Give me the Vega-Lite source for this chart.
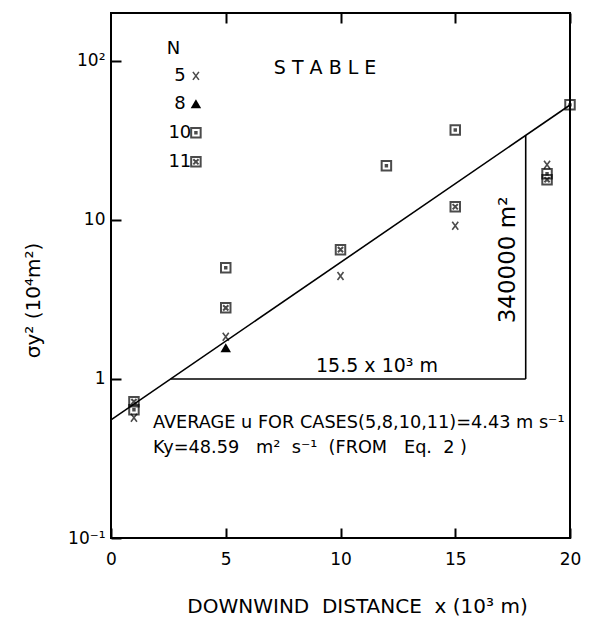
{
  "$schema": "https://vega.github.io/schema/vega-lite/v6.json",
  "width": 459,
  "height": 525,
  "autosize": {"type": "none"},
  "padding": {"left": 111, "top": 13, "right": 20, "bottom": 80},
  "background": "white",
  "config": {
    "view": {"stroke": "black", "strokeWidth": 2},
    "font": "DejaVu Sans",
    "axis": {
      "domain": false,
      "grid": false,
      "ticks": true,
      "tickColor": "black",
      "tickWidth": 2,
      "tickSize": -10,
      "labelFlush": false,
      "labelColor": "black",
      "labelFont": "DejaVu Sans",
      "labelFontSize": 17,
      "titleColor": "black",
      "titleFont": "DejaVu Sans",
      "titleFontWeight": "normal"
    }
  },
  "datasets": {
    "pts": [
      {"x": 1, "y": 0.57, "n": "5"},
      {"x": 5, "y": 1.84, "n": "5"},
      {"x": 10, "y": 4.44, "n": "5"},
      {"x": 15, "y": 9.2, "n": "5"},
      {"x": 19, "y": 22.2, "n": "5"},
      {"x": 5, "y": 1.57, "n": "8"},
      {"x": 1, "y": 0.64, "n": "10"},
      {"x": 5, "y": 5.0, "n": "10"},
      {"x": 12, "y": 21.9, "n": "10"},
      {"x": 15, "y": 36.8, "n": "10"},
      {"x": 19, "y": 19.5, "n": "10"},
      {"x": 20, "y": 52.9, "n": "10"},
      {"x": 1, "y": 0.72, "n": "11"},
      {"x": 5, "y": 2.8, "n": "11"},
      {"x": 10, "y": 6.5, "n": "11"},
      {"x": 15, "y": 12.1, "n": "11"},
      {"x": 19, "y": 17.9, "n": "11"},
      {"x": 3.7, "y": 80.5, "n": "5"},
      {"x": 3.7, "y": 53.7, "n": "8"},
      {"x": 3.7, "y": 35.3, "n": "10"},
      {"x": 3.7, "y": 23.2, "n": "11"}
    ],
    "fit": [
      {"x": 0, "y": 0.553},
      {"x": 20, "y": 52.8}
    ],
    "legendText": [
      {"x": 2.72, "y": 119, "label": "N", "align": "center"},
      {"x": 3.0, "y": 80.5, "label": "5", "align": "right"},
      {"x": 3.0, "y": 53.7, "label": "8", "align": "right"},
      {"x": 3.0, "y": 35.3, "label": "10", "align": "right"},
      {"x": 3.0, "y": 23.2, "label": "11", "align": "right"}
    ],
    "notes": [
      {"x": 9.33, "y": 82.8, "label": "S T A B L E", "size": 19},
      {"x": 11.59, "y": 1.106, "label": "15.5 x 10³ m", "size": 19}
    ],
    "notesLeft": [
      {"x": 1.83, "y": 0.492, "label": "AVERAGE u FOR CASES(5,8,10,11)=4.43 m s⁻¹"},
      {"x": 1.83, "y": 0.343, "label": "Ky=48.59\u00a0\u00a0 m²\u00a0 s⁻¹\u00a0 (FROM\u00a0\u00a0 Eq.\u00a0 2 )"}
    ],
    "vnote": [
      {"x": 17.3, "y": 5.6, "label": "340000 m²"}
    ],
    "tri": [
      {"x": 2.6, "x2": 18.07, "y": 1, "y2": 1},
      {"x": 18.07, "x2": 18.07, "y": 1, "y2": 34}
    ]
  },
  "layer": [
    {
      "data": {"name": "fit"},
      "mark": {"type": "line", "color": "black", "strokeWidth": 1.6},
      "encoding": {
        "x": {
          "field": "x", "type": "quantitative",
          "scale": {"domain": [0, 20], "nice": false, "zero": false},
          "axis": {
            "orient": "bottom",
            "values": [0, 5, 10, 15, 20],
            "labelPadding": 23,
            "title": "DOWNWIND\u00a0 DISTANCE\u00a0 x (10³ m)",
            "titleFontSize": 20,
            "titleX": 246,
            "titleY": 74,
            "titleBaseline": "alphabetic"
          }
        },
        "y": {
          "field": "y", "type": "quantitative",
          "scale": {"type": "log", "domain": [0.1, 200], "nice": false},
          "axis": {
            "orient": "left",
            "values": [0.1, 1, 10, 100],
            "labelExpr": "datum.value >= 100 ? '10²' : datum.value >= 10 ? '10' : datum.value >= 1 ? '1' : '10⁻¹'",
            "labelPadding": 16,
            "title": "σy² (10⁴m²)",
            "titleFontSize": 20,
            "titleAngle": 270,
            "titleX": -78,
            "titleY": 287,
            "titleAlign": "center",
            "titleBaseline": "middle"
          }
        }
      }
    },
    {
      "data": {"name": "tri"},
      "mark": {"type": "rule", "color": "black", "strokeWidth": 1.6},
      "encoding": {
        "x": {"field": "x", "type": "quantitative", "axis": {"orient": "top", "values": [5, 10, 15, 20], "labels": false, "title": null}},
        "x2": {"field": "x2"},
        "y": {"field": "y", "type": "quantitative"},
        "y2": {"field": "y2"}
      }
    },
    {
      "data": {"name": "pts"},
      "transform": [{"filter": "datum.n == '5'"}],
      "mark": {"type": "point", "shape": "M-0.75,-1L0.75,1M0.75,-1L-0.75,1", "filled": false, "color": "black", "strokeWidth": 1.6, "size": 64},
      "encoding": {
        "x": {"field": "x", "type": "quantitative", "axis": null},
        "y": {"field": "y", "type": "quantitative"}
      }
    },
    {
      "data": {"name": "pts"},
      "transform": [{"filter": "datum.n == '8'"}],
      "mark": {"type": "point", "shape": "triangle-up", "filled": true, "color": "black", "opacity": 1, "size": 110},
      "encoding": {
        "x": {"field": "x", "type": "quantitative", "axis": null},
        "y": {"field": "y", "type": "quantitative"}
      }
    },
    {
      "data": {"name": "pts"},
      "transform": [{"filter": "datum.n == '10'"}],
      "mark": {"type": "point", "shape": "M-1,-1H1V1H-1ZM-0.15,-0.15H0.15V0.15H-0.15Z", "filled": false, "color": "black", "strokeWidth": 2, "size": 90},
      "encoding": {
        "x": {"field": "x", "type": "quantitative", "axis": null},
        "y": {"field": "y", "type": "quantitative"}
      }
    },
    {
      "data": {"name": "pts"},
      "transform": [{"filter": "datum.n == '11'"}],
      "mark": {"type": "point", "shape": "M-1,-1H1V1H-1ZM-0.55,-0.55L0.55,0.55M0.55,-0.55L-0.55,0.55", "filled": false, "color": "black", "strokeWidth": 2, "size": 90},
      "encoding": {
        "x": {"field": "x", "type": "quantitative", "axis": null},
        "y": {"field": "y", "type": "quantitative"}
      }
    },
    {
      "data": {"name": "legendText"},
      "mark": {"type": "text", "fontSize": 18, "baseline": "middle", "color": "black"},
      "encoding": {
        "x": {"field": "x", "type": "quantitative", "axis": null},
        "y": {"field": "y", "type": "quantitative"},
        "text": {"field": "label"},
        "align": {"field": "align", "type": "nominal", "scale": null}
      }
    },
    {
      "data": {"name": "notes"},
      "mark": {"type": "text", "baseline": "alphabetic", "align": "center", "color": "black"},
      "encoding": {
        "x": {"field": "x", "type": "quantitative", "axis": null},
        "y": {"field": "y", "type": "quantitative"},
        "text": {"field": "label"},
        "size": {"field": "size", "type": "quantitative", "scale": null}
      }
    },
    {
      "data": {"name": "notesLeft"},
      "mark": {"type": "text", "fontSize": 17.7, "baseline": "alphabetic", "align": "left", "color": "black"},
      "encoding": {
        "x": {"field": "x", "type": "quantitative", "axis": null},
        "y": {"field": "y", "type": "quantitative"},
        "text": {"field": "label"}
      }
    },
    {
      "data": {"name": "vnote"},
      "mark": {"type": "text", "fontSize": 23, "baseline": "middle", "align": "center", "angle": 270, "color": "black"},
      "encoding": {
        "x": {"field": "x", "type": "quantitative", "axis": null},
        "y": {"field": "y", "type": "quantitative"},
        "text": {"field": "label"}
      }
    }
  ]
}
